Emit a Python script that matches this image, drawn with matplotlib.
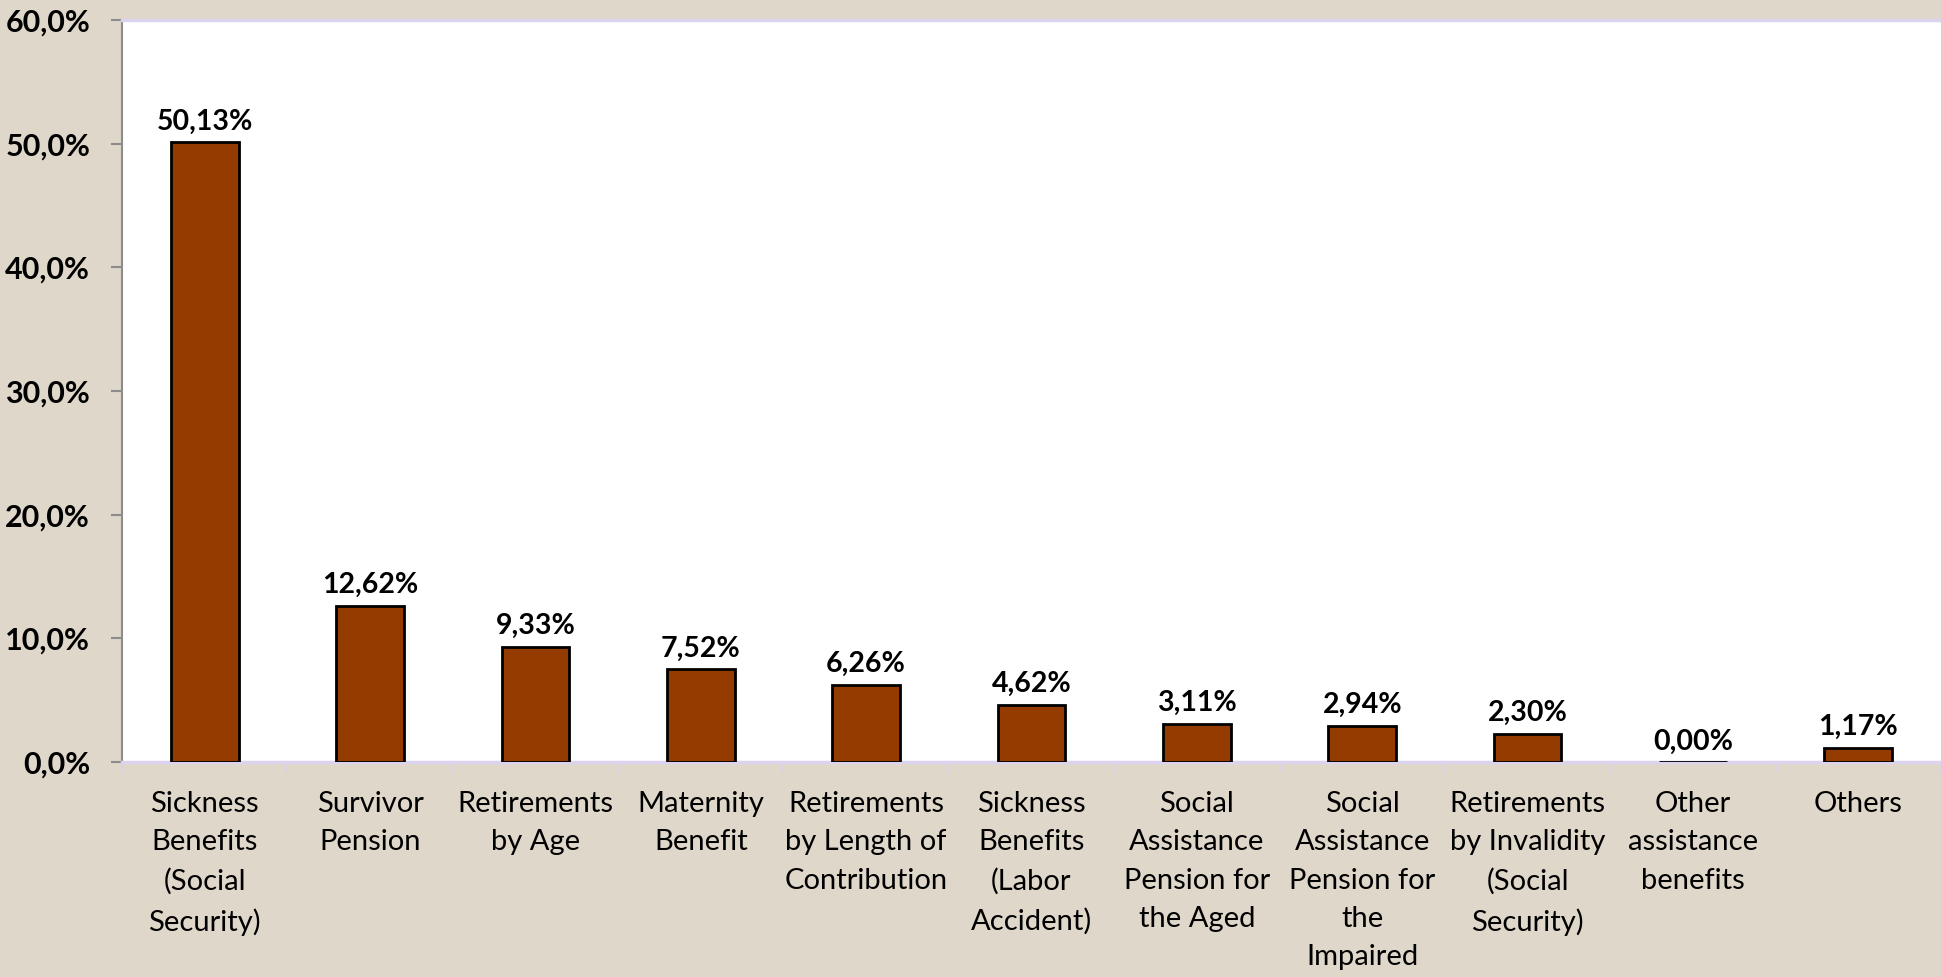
import matplotlib
matplotlib.use("Agg")
import matplotlib.pyplot as plt
from matplotlib.ticker import FuncFormatter, FixedLocator

categories = [
    "Sickness\nBenefits\n(Social\nSecurity)",
    "Survivor\nPension",
    "Retirements\nby Age",
    "Maternity\nBenefit",
    "Retirements\nby Length of\nContribution",
    "Sickness\nBenefits\n(Labor\nAccident)",
    "Social\nAssistance\nPension for\nthe Aged",
    "Social\nAssistance\nPension for\nthe\nImpaired",
    "Retirements\nby Invalidity\n(Social\nSecurity)",
    "Other\nassistance\nbenefits",
    "Others",
]
values = [50.13, 12.62, 9.33, 7.52, 6.26, 4.62, 3.11, 2.94, 2.30, 0.00, 1.17]
yticks = [0, 10, 20, 30, 40, 50, 60]

plt.rcParams['font.family'] = ['Lato', 'DejaVu Sans']
BG = "#dfd7ca"
BAR = "#943c00"

fig = plt.figure(figsize=(19.41, 9.77), dpi=100)
fig.patch.set_facecolor(BG)
ax = fig.add_axes([122/1941, (977-762)/977, 1 - 122/1941, (762-20)/977])
ax.set_facecolor("white")

x = list(range(len(values)))
ax.bar(x, values, width=0.41, color=BAR, edgecolor="black", linewidth=2.0, zorder=3)

for xi, v in zip(x, values):
    ax.annotate(f"{v:.2f}%".replace(".", ","), (xi, v), xytext=(0, 5.5),
                textcoords="offset points", ha="center", va="bottom",
                fontsize=20.5, fontweight="bold", color="black")

ax.set_xlim(-0.5, len(values) - 0.5)
ax.set_ylim(0, 60)
ax.set_yticks(yticks)
ax.yaxis.set_major_formatter(FuncFormatter(lambda v, p: f"{v:.1f}%".replace(".", ",")))
ax.tick_params(axis="y", labelsize=22, length=8, width=1.5, color="#8c8c8c", pad=15)
for lbl in ax.get_yticklabels():
    lbl.set_fontweight("bold")

ax.set_xticks(x)
ax.set_xticklabels(categories, fontsize=21, linespacing=1.58)
ax.tick_params(axis="x", length=0, pad=21)
ax.xaxis.set_minor_locator(FixedLocator([i - 0.5 for i in range(len(values) + 1)]))
ax.tick_params(axis="x", which="minor", length=8, width=1.2, color="#d8d2e6")

ax.spines["left"].set_color("#8c8c8c")
ax.spines["left"].set_linewidth(1.5)
ax.spines["top"].set_color("#dcd3ee")
ax.spines["top"].set_linewidth(2.5)
ax.spines["bottom"].set_color("#dcd3ee")
ax.spines["bottom"].set_linewidth(2.5)
ax.spines["right"].set_visible(False)

fig.savefig("out.png", dpi=100, facecolor=BG)
